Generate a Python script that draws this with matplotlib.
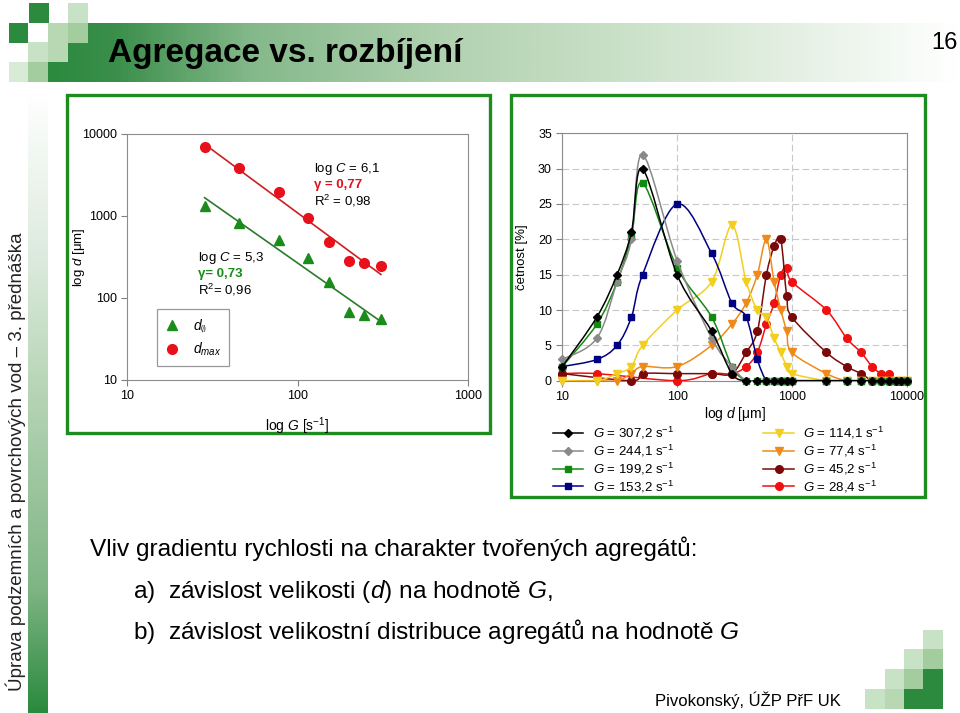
import numpy as np
import matplotlib
matplotlib.use('Agg')
import matplotlib.pyplot as plt
from matplotlib import font_manager as fm
from matplotlib import ticker
from matplotlib.colors import LinearSegmentedColormap
from matplotlib.lines import Line2D
from matplotlib.patches import Rectangle, PathPatch
from matplotlib.path import Path

# levy graf: velikost agregatu vs. gradient rychlosti
G = [28.4, 45.2, 77.4, 114.1, 153.2, 199.2, 244.1, 307.2]
d_avg = [1340, 830, 510, 305, 155, 67, 62, 56]
d_max = [6900, 3900, 1950, 950, 480, 282, 267, 248]

# pravy graf: cetnost [%] pro velikostni tridy d [um]
D = [10, 20, 30, 40, 50, 100, 200, 300, 400, 500, 600, 700, 800, 900,
     1000, 2000, 3000, 4000, 5000, 6000, 7000, 8000, 9000, 10000]
f_307 = [2, 9, 15, 21, 30, 15, 7, 1, 0, 0, 0, 0, 0, 0, 0, 0, 0, 0, 0, 0, 0, 0, 0, 0]
f_244 = [3, 6, 14, 20, 32, 17, 6, 2, 0, 0, 0, 0, 0, 0, 0, 0, 0, 0, 0, 0, 0, 0, 0, 0]
f_199 = [2, 8, 14, 20.5, 28, 16, 9, 2, 0, 0, 0, 0, 0, 0, 0, 0, 0, 0, 0, 0, 0, 0, 0, 0]
f_153 = [2, 3, 5, 9, 15, 25, 18, 11, 9, 3, 0, 0, 0, 0, 0, 0, 0, 0, 0, 0, 0, 0, 0, 0]
f_114 = [0, 0, 1, 2, 5, 10, 14, 22, 14, 10, 9, 6, 4, 2, 1, 0, 0, 0, 0, 0, 0, 0, 0, 0]
f_77 = [0, 0, 0, 1, 2, 2, 5, 8, 11, 15, 20, 14, 10, 7, 4, 1, 0, 0, 0, 0, 0, 0, 0, 0]
f_45 = [1, None, None, 0, 1, 1, 1, 1, 4, 7, 15, 19, 20, 12, 9, 4, 2, 1, 0, 0, 0, 0, 0, 0]
f_28 = [1, 1, None, None, None, 0, 1, 1, 2, 4, 8, 11, 15, 16, 14, 10, 6, 4, 2, 1, 1, 0, 0, 0]
series = [f_307, f_244, f_199, f_153, f_114, f_77, f_45, f_28]
g_labels = ['307,2', '244,1', '199,2', '153,2', '114,1', '77,4', '45,2', '28,4']
colors = ['#000000', '#8a8a8a', '#128a12', '#000080', '#f2cf1f', '#ef8a1a', '#7a0a0a', '#f01010']
markers = ['D', 'D', 's', 's', 'v', 'v', 'o', 'o']
msizes = [4.5, 4.5, 5, 5, 5.5, 5.5, 5.5, 5.5]

names = {f.name for f in fm.fontManager.ttflist}
SANS = 'Liberation Sans' if 'Liberation Sans' in names else 'DejaVu Sans'

plt.rcParams['font.family'] = [SANS, 'DejaVu Sans']
plt.rcParams['mathtext.fontset'] = 'custom'
plt.rcParams['mathtext.rm'] = SANS
plt.rcParams['mathtext.it'] = SANS + ':italic'
plt.rcParams['mathtext.bf'] = SANS + ':bold'

W, H = 960, 713
fig = plt.figure(figsize=(W / 100, H / 100), dpi=100)


def rect(x0, y0, x1, y1):
    return [x0 / W, 1 - y1 / H, (x1 - x0) / W, (y1 - y0) / H]


# pozadi slajdu v pixelech
bg = fig.add_axes([0, 0, 1, 1], zorder=0)
bg.axis('off')

DARK = '#2b8a3e'
bar_cm = LinearSegmentedColormap.from_list('bar', [
    (0.0, DARK), (0.07, '#3a8e4a'), (0.22, '#84b88a'), (0.44, '#b2d2b1'),
    (0.72, '#d6e8d4'), (1.0, '#ffffff')])
bg.imshow(np.linspace(0, 1, 400)[None, :], cmap=bar_cm, aspect='auto',
          extent=(48, 960, 82, 23), interpolation='bilinear')
vert_cm = LinearSegmentedColormap.from_list('vert', [
    (0.0, '#ffffff'), (0.25, '#dfece0'), (0.5, '#b4d3b3'), (0.8, '#7fb585'), (1.0, DARK)])
bg.imshow(np.linspace(0, 1, 400)[:, None], cmap=vert_cm, aspect='auto',
          extent=(28, 48, 713, 90), interpolation='bilinear')

LIGHT, MED, VLIGHT, LMED = '#c8e2c6', '#a3cd9f', '#d8ebd6', '#b7d8b3'
squares = [
    (29, 3, DARK), (68, 3, LIGHT),
    (9, 23, DARK), (28, 23, '#ffffff'), (48, 23, LMED), (68, 23, MED),
    (28, 42, LIGHT), (48, 42, LMED),
    (9, 62, VLIGHT), (28, 62, MED),
    # vpravo dole
    (923, 630, LIGHT),
    (904, 649, LIGHT), (923, 649, MED),
    (885, 669, LIGHT), (904, 669, MED), (923, 669, DARK),
    (865, 689, LIGHT), (885, 689, LMED), (904, 689, DARK), (923, 689, DARK),
]
for sx, sy, c in squares:
    bg.add_patch(Rectangle((sx, sy), 19.5, 19.5, color=c, lw=0))

FRAME = '#1f8c1f'
bg.add_patch(Rectangle((67, 95), 423, 338, fill=False, ec=FRAME, lw=2.4))
bg.add_patch(Rectangle((511, 95), 414, 402, fill=False, ec=FRAME, lw=2.4))

bg.text(108, 62, 'Agregace vs. rozbíjení', fontweight='bold',
        fontsize=24, va='baseline', ha='left')
bg.text(958, 49, '16', fontsize=17, va='baseline', ha='right')
bg.text(16, 462, 'Úprava podzemních a povrchových vod – 3. přednáška', rotation=90,
        fontsize=13.5, ha='center', va='center', color='#222222')
bg.text(90, 556, 'Vliv gradientu rychlosti na charakter tvořených agregátů:',
        fontsize=17.6, va='baseline')
bg.text(133, 598, 'a)  závislost velikosti ($d$) na hodnotě $G$,',
        fontsize=17.6, va='baseline')
bg.text(133, 639, 'b)  závislost velikostní distribuce agregátů na hodnotě $G$',
        fontsize=17.6, va='baseline')
bg.text(655, 706, 'Pivokonský, ÚŽP PřF UK', fontsize=12, va='baseline')

bg.set_xlim(0, W)
bg.set_ylim(H, 0)

# ---------- levy graf ----------
ax = fig.add_axes(rect(127.3, 134, 468.3, 380), zorder=1)
ax.set_xscale('log')
ax.set_yscale('log')
ax.set_xlim(10, 1000)
ax.set_ylim(10, 10000)

lg = np.log10(G)
for vals, c in [(d_max, '#cc1f1f'), (d_avg, '#2a7a2a')]:
    m, b = np.polyfit(lg, np.log10(vals), 1)
    xe = np.array([G[0], G[-1]])
    ax.plot(xe, 10 ** (b + m * np.log10(xe)), color=c, lw=1.2)
h1, = ax.plot(G, d_avg, '^', color='#1a8c1a', ms=7, ls='none')
h2, = ax.plot(G, d_max, 'o', color='#e8101a', ms=7, ls='none')
leg = ax.legend([h1, h2], [r'$d_{\emptyset}$', r'$d_{max}$'], loc='upper left',
                bbox_to_anchor=(0.088, 0.287), fontsize=10, frameon=True, fancybox=False,
                edgecolor='#808080', handlelength=1.0, handletextpad=1.0,
                borderpad=0.55, labelspacing=0.45, borderaxespad=0)
leg.get_frame().set_linewidth(0.9)

# popisky regresi (pixelove souradnice slajdu)
notes = [(314, 169, 'log $C$ = 6,1', 'black', 'normal'),
         (314, 185, 'γ = 0,77', '#e0101a', 'bold'),
         (314, 201, 'R$^2$ = 0,98', 'black', 'normal'),
         (198, 258, 'log $C$ = 5,3', 'black', 'normal'),
         (198, 274, 'γ= 0,73', '#1a8c1a', 'bold'),
         (198, 290, 'R$^2$= 0,96', 'black', 'normal')]
for tx, ty, s, c, fw in notes:
    ax.text(tx, ty, s, transform=bg.transData, fontsize=9.5, va='center',
            color=c, fontweight=fw)

ax.xaxis.set_major_formatter(ticker.FormatStrFormatter('%d'))
ax.yaxis.set_major_formatter(ticker.FormatStrFormatter('%d'))
ax.xaxis.set_minor_locator(ticker.NullLocator())
ax.yaxis.set_minor_locator(ticker.NullLocator())
ax.tick_params(labelsize=9, length=4, color='#808080')
for s in ax.spines.values():
    s.set_color('#8c8c8c')
ax.set_ylabel('log $d$ [μm]', fontsize=9.5)
ax.yaxis.set_label_coords(-0.118, 0.5)
ax.set_xlabel('log $G$ [s$^{-1}$]', fontsize=10)
ax.xaxis.set_label_coords(0.498, -0.142)


# ---------- pravy graf ----------
def smooth_path(xs, ys):
    p = np.column_stack([np.log10(xs), ys])
    n = len(p)
    verts, codes = [p[0]], [Path.MOVETO]
    for i in range(n - 1):
        p0, p1 = p[max(i - 1, 0)], p[i]
        p2, p3 = p[i + 1], p[min(i + 2, n - 1)]
        verts += [p1 + (p2 - p0) / 6, p2 - (p3 - p1) / 6, p2]
        codes += [Path.CURVE4] * 3
    v = np.array(verts)
    v[:, 0] = 10 ** v[:, 0]
    return Path(v, codes)


ax2 = fig.add_axes(rect(562.3, 133.3, 906.7, 380.7), zorder=1)
ax2.set_xscale('log')
ax2.set_xlim(10, 10000)
ax2.set_ylim(0, 35)
ax2.set_yticks(range(0, 36, 5))
ax2.grid(True, which='major', ls=(0, (6, 3)), color='#c8c8c8', lw=0.8)
ax2.set_axisbelow(True)

handles = []
for i in reversed(range(len(series))):
    pts = [(x, y) for x, y in zip(D, series[i]) if y is not None]
    xs = np.array([p[0] for p in pts], float)
    ys = np.array([p[1] for p in pts], float)
    ax2.add_patch(PathPatch(smooth_path(xs, ys), fc='none', ec=colors[i], lw=1.1,
                            zorder=2 + (8 - i)))
    ax2.plot(xs, ys, markers[i], color=colors[i], ms=msizes[i], ls='none',
             clip_on=False, zorder=2.5 + (8 - i))
for i in range(len(series)):
    handles.append(Line2D([], [], color=colors[i], marker=markers[i], ms=msizes[i], lw=1.1))

ax2.xaxis.set_major_formatter(ticker.FormatStrFormatter('%d'))
ax2.xaxis.set_minor_locator(ticker.NullLocator())
ax2.tick_params(labelsize=9, length=4, color='#808080')
for s in ax2.spines.values():
    s.set_color('#8c8c8c')
ax2.set_ylabel('četnost [%]', fontsize=9.5)
ax2.yaxis.set_label_coords(-0.0996, 0.5)
ax2.set_xlabel('log $d$ [μm]', fontsize=10)
ax2.xaxis.set_label_coords(0.501, -0.098)

fig.legend(handles, ['$G$ = %s s$^{-1}$' % g for g in g_labels], ncol=2,
           loc='upper left', bbox_to_anchor=(553 / W, 1 - 425 / H), frameon=False,
           fontsize=9.5, handlelength=2.3, handletextpad=0.7, columnspacing=6.8,
           labelspacing=0.12, borderaxespad=0, borderpad=0, numpoints=1)

fig.savefig('out.png', dpi=100)
